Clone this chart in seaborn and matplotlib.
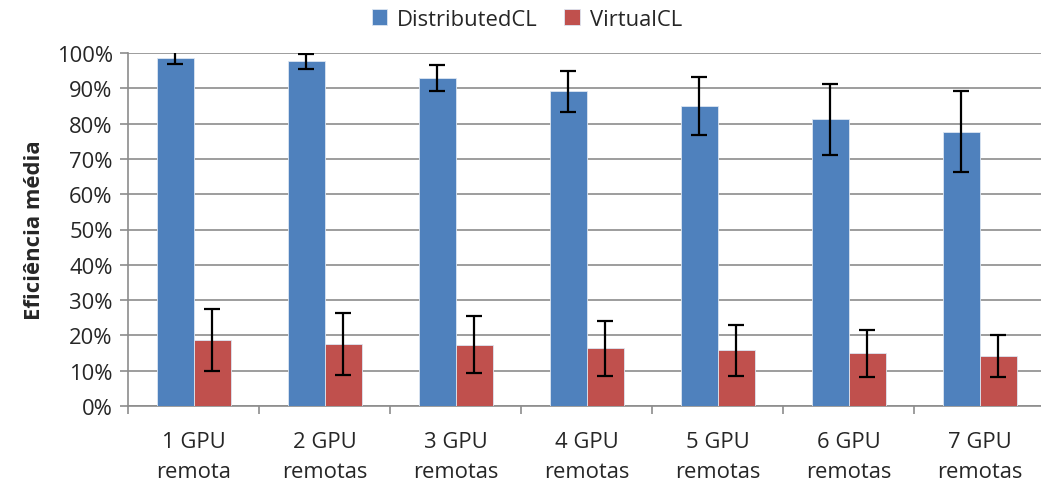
import matplotlib
matplotlib.use("Agg")
import matplotlib.pyplot as plt
import seaborn as sns
import pandas as pd
import numpy as np
from matplotlib.ticker import PercentFormatter, FixedLocator

categories = ["1 GPU\nremota", "2 GPU\nremotas", "3 GPU\nremotas", "4 GPU\nremotas",
              "5 GPU\nremotas", "6 GPU\nremotas", "7 GPU\nremotas"]
series_names = ["DistributedCL", "VirtualCL"]
distributed = [0.987, 0.976, 0.929, 0.892, 0.850, 0.812, 0.777]
distributed_err = [0.019, 0.021, 0.037, 0.058, 0.082, 0.101, 0.115]
virtual = [0.186, 0.176, 0.174, 0.163, 0.158, 0.149, 0.142]
virtual_err = [0.088, 0.087, 0.081, 0.077, 0.072, 0.066, 0.060]

colors = ["#4F81BD", "#C0504D"]

sns.set_theme(style="white")
plt.rcParams['font.family'] = ['Open Sans', 'DejaVu Sans']

df = pd.DataFrame({
    "cat": categories * 2,
    "serie": [series_names[0]] * len(categories) + [series_names[1]] * len(categories),
    "val": distributed + virtual,
})

FS = 15.8

fig = plt.figure(figsize=(10.41, 4.85), dpi=100)
ax = fig.add_axes([128 / 1041, 1 - 407 / 485, (1045.5 - 128) / 1041, (407 - 54) / 485])

sns.barplot(data=df, x="cat", y="val", hue="serie", palette=colors, width=0.565,
            gap=0, errorbar=None, ax=ax, saturation=1, edgecolor="#dce6f2",
            linewidth=0.6, zorder=3)

errs = [distributed_err, virtual_err]
for cont, e in zip(ax.containers, errs):
    xs = [b.get_x() + b.get_width() / 2 for b in cont]
    hs = [b.get_height() for b in cont]
    ax.errorbar(xs, hs, yerr=e, fmt="none", ecolor="black", elinewidth=1.6,
                capsize=5.5, capthick=1.6, zorder=4)

ax.set_ylim(0, 1)
ax.set_xlim(-0.5, len(categories) - 0.5)
ax.yaxis.set_major_locator(FixedLocator(np.arange(0, 1.01, 0.1)))
ax.yaxis.set_major_formatter(PercentFormatter(1.0, decimals=0))
ax.grid(axis="y", color="#8c8c8c", linewidth=1.2, zorder=0)
ax.set_axisbelow(True)

for s in ["top", "right"]:
    ax.spines[s].set_visible(False)
for s in ["left", "bottom"]:
    ax.spines[s].set_color("#8c8c8c")
    ax.spines[s].set_linewidth(1.2)

ax.tick_params(axis="y", which="major", direction="out", length=6, width=1.2,
               color="#8c8c8c", labelsize=FS, pad=5, left=True)
ax.tick_params(axis="x", which="major", length=0, labelsize=FS, pad=18)
ax.set_xticks(np.arange(-0.5, len(categories) - 0.5, 1.0), minor=True)
ax.tick_params(axis="x", which="minor", direction="out", length=6, width=1.2,
               color="#8c8c8c", bottom=True)
for lbl in ax.get_xticklabels():
    lbl.set_linespacing(1.55)

ax.set_xlabel("")
ax.set_ylabel("Eficiência média", fontsize=FS, fontweight="bold", labelpad=8)

ax.legend(loc="center", bbox_to_anchor=(527 / 1041, 1 - 20 / 485), bbox_transform=fig.transFigure,
          ncol=2, frameon=False, fontsize=FS, handlelength=0.7, handleheight=0.7,
          handletextpad=0.45, columnspacing=1.2, borderaxespad=0)

fig.savefig("out.png", dpi=100)
